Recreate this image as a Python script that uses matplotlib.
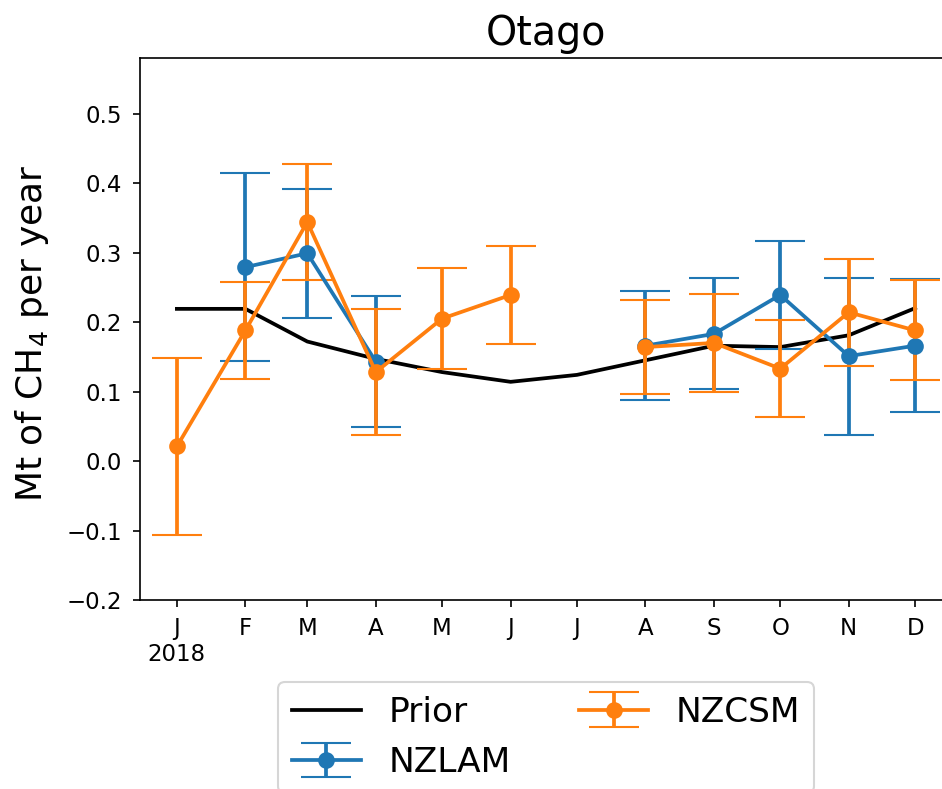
import numpy as np
import pandas as pd
import matplotlib
matplotlib.use('Agg')
import matplotlib.pyplot as plt

# ------------------------------------------------------------------
# data
# ------------------------------------------------------------------
months = pd.date_range('2018-01-01', periods=12, freq='MS')
month_labels = ['J\n2018', 'F', 'M', 'A', 'M', 'J', 'J', 'A', 'S', 'O', 'N', 'D']

prior = [0.219, 0.219, 0.172, 0.147, 0.128, 0.114, 0.124, 0.145, 0.166, 0.164, 0.181, 0.220]

nzlam     = [np.nan, 0.279, 0.299, 0.143, np.nan, np.nan, np.nan, 0.166, 0.183, 0.239, 0.151, 0.166]
nzlam_err = [np.nan, 0.135, 0.093, 0.094, np.nan, np.nan, np.nan, 0.078, 0.080, 0.078, 0.113, 0.096]

nzcsm     = [0.021, 0.188, 0.344, 0.128, 0.205, 0.239, np.nan, 0.164, 0.170, 0.133, 0.214, 0.188]
nzcsm_err = [0.127, 0.070, 0.083, 0.091, 0.073, 0.070, np.nan, 0.068, 0.070, 0.070, 0.077, 0.072]

# ------------------------------------------------------------------
fig = plt.figure(figsize=(942 / 150, 789 / 150), dpi=150)
ax = fig.add_axes([0.1486, 0.2395, 0.862, 0.687])

lw = 1.8
ax.plot(months, prior, color='black', linewidth=lw, label='Prior')
ax.errorbar(months, nzlam, yerr=nzlam_err, fmt='o-', color='#1f77b4',
            markersize=7, capsize=12, linewidth=lw, label='NZLAM')
ax.errorbar(months, nzcsm, yerr=nzcsm_err, fmt='o-', color='#ff7f0e',
            markersize=7, capsize=12, linewidth=lw, label='NZCSM')

ax.set_ylim(-0.2, 0.58)
ax.set_yticks(np.arange(-0.2, 0.51, 0.1))
ax.set_xticks(months)
ax.set_xticklabels(month_labels, fontsize=11)
ax.tick_params(axis='y', labelsize=11, pad=5)
ax.tick_params(axis='x', pad=4.5)

ax.set_ylabel('Mt of CH$_4$ per year', fontsize=17.3)
ax.yaxis.set_label_coords(-0.109, 0.4917)
ax.set_title('Otago', fontsize=19)

ax.legend(loc='upper center', bbox_to_anchor=(0.5, -0.151), ncol=2,
          fontsize=16.5, borderaxespad=0)

plt.savefig('out.png', dpi=150)
